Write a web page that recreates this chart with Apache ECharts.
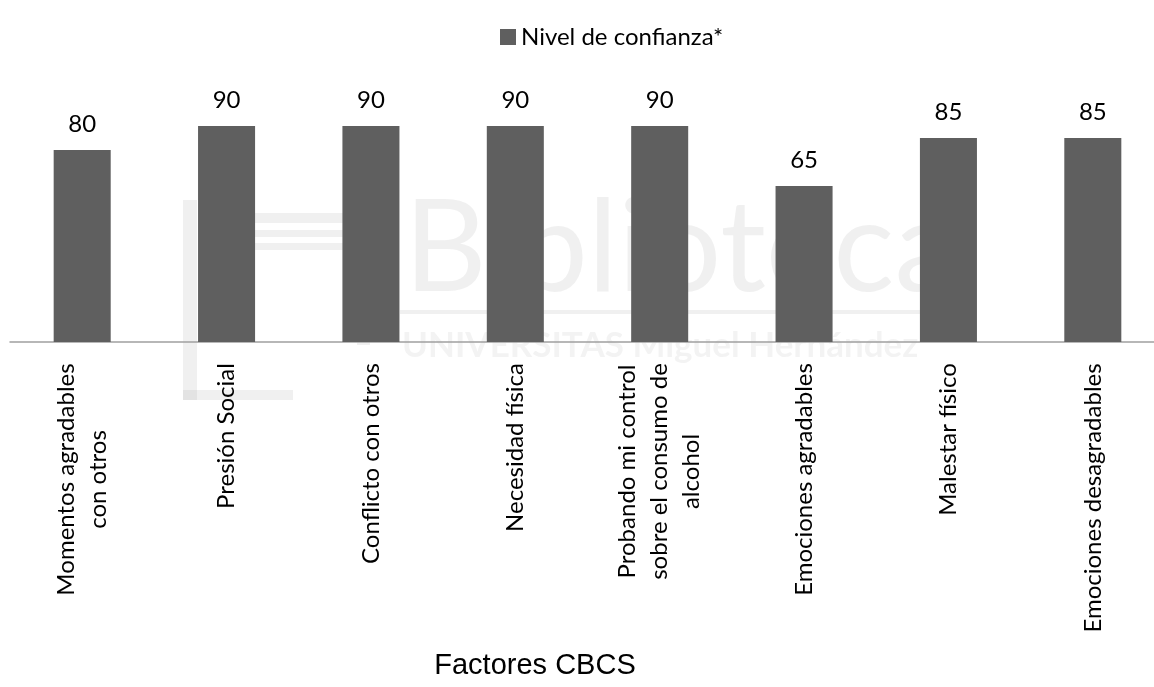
<!DOCTYPE html>
<html>
<head>
<meta charset="utf-8">
<script src="https://cdn.jsdelivr.net/npm/echarts@6/dist/echarts.min.js"></script>
<style>
  html, body { margin: 0; padding: 0; background: #ffffff; overflow: hidden; }
  /* the plot's last band runs slightly past the right edge of the page */
  #chart { width: 1166px; height: 687px; }
</style>
</head>
<body>
<div id="chart"></div>
<script>
// Factors of the CBCS questionnaire and the confidence level reported for each
const categories = [
  'Momentos agradables\ncon otros',
  'Presión Social',
  'Conflicto con otros',
  'Necesidad física',
  'Probando mi control\nsobre el consumo de\nalcohol',
  'Emociones agradables',
  'Malestar físico',
  'Emociones desagradables'
];
const confidence = [80, 90, 90, 90, 90, 65, 85, 85];
const seriesName = 'Nivel de confianza*';
const axisTitle = 'Factores CBCS';

const BAR_COLOR = '#5f5f5f';
const FONT = 'Lato';
const LABEL_SIZE = 24;
const LABEL_LINE = 32;

// Each wrapped category label keeps its lines centred on one another:
// every line is a rich token as wide as the label's longest line.
const measure = document.createElement('canvas').getContext('2d');
measure.font = LABEL_SIZE + 'px ' + FONT;
const labelRich = {};
categories.forEach(function (c, i) {
  const w = Math.max.apply(null, c.split('\n').map(function (l) {
    return measure.measureText(l).width;
  }));
  labelRich['c' + i] = {
    width: Math.ceil(w) + 2,
    align: 'center',
    fontFamily: FONT,
    fontSize: LABEL_SIZE,
    lineHeight: LABEL_LINE,
    color: '#000000'
  };
});

const chart = echarts.init(document.getElementById('chart'), null, { renderer: 'canvas' });

// Library watermark printed across the plot
const wmFill = '#9a9a9a';
const wmOpacity = 0.15;
function wmRect(x, y, w, h) {
  return { type: 'rect', shape: { x: x, y: y, width: w, height: h }, style: { fill: wmFill, opacity: wmOpacity }, silent: true };
}

chart.setOption({
  animation: false,
  backgroundColor: '#ffffff',
  legend: {
    left: 495,
    top: 20,
    icon: 'rect',
    itemWidth: 16,
    itemHeight: 16,
    itemGap: 10,
    textStyle: { fontFamily: FONT, fontSize: 24, color: '#000000' },
    data: [seriesName]
  },
  grid: { left: 10, top: 102, width: 1155, height: 240 },
  xAxis: {
    type: 'category',
    data: categories,
    axisTick: { show: false },
    axisLine: { lineStyle: { color: '#a0a0a0', width: 1.5 } },
    axisLabel: {
      interval: 0,
      rotate: 90,
      margin: 20,
      formatter: function (value, idx) {
        return value.split('\n').map(function (l) { return '{c' + idx + '|' + l + '}'; }).join('\n');
      },
      rich: labelRich
    }
  },
  yAxis: {
    type: 'value',
    min: 0,
    max: 100,
    show: false,
    splitLine: { show: false }
  },
  series: [{
    name: seriesName,
    type: 'bar',
    data: confidence,
    barWidth: '39.5%',
    itemStyle: { color: BAR_COLOR },
    label: {
      show: true,
      position: 'top',
      distance: 14,
      fontFamily: FONT,
      fontSize: 24,
      color: '#000000'
    }
  }],
  graphic: [
    {
      type: 'text',
      x: 535,
      y: 666,
      style: {
        text: axisTitle,
        fontFamily: 'Liberation Sans',
        fontSize: 29,
        fill: '#000000',
        textAlign: 'center',
        textVerticalAlign: 'middle'
      },
      silent: true
    },
    {
      type: 'group',
      z: 100,
      silent: true,
      children: [
        {
          type: 'text',
          x: 404,
          y: 250,
          style: {
            text: 'Biblioteca',
            fontFamily: FONT,
            fontSize: 128,
            fill: wmFill,
            opacity: wmOpacity,
            textAlign: 'left',
            textVerticalAlign: 'middle'
          }
        },
        wmRect(400, 310, 548, 4),
        {
          type: 'text',
          x: 402,
          y: 346,
          style: {
            text: 'UNIVERSITAS Miguel Hernández',
            fontFamily: FONT,
            fontWeight: 'bold',
            fontSize: 35,
            fill: wmFill,
            opacity: wmOpacity * 0.8,
            textAlign: 'left',
            textVerticalAlign: 'middle'
          }
        },
        wmRect(183, 200, 14, 200),
        wmRect(183, 390, 110, 10),
        wmRect(200, 213, 167, 10),
        wmRect(200, 230, 167, 7),
        wmRect(200, 243, 167, 7),
        wmRect(357, 250, 13, 95)
      ]
    }
  ]
});
</script>
</body>
</html>
